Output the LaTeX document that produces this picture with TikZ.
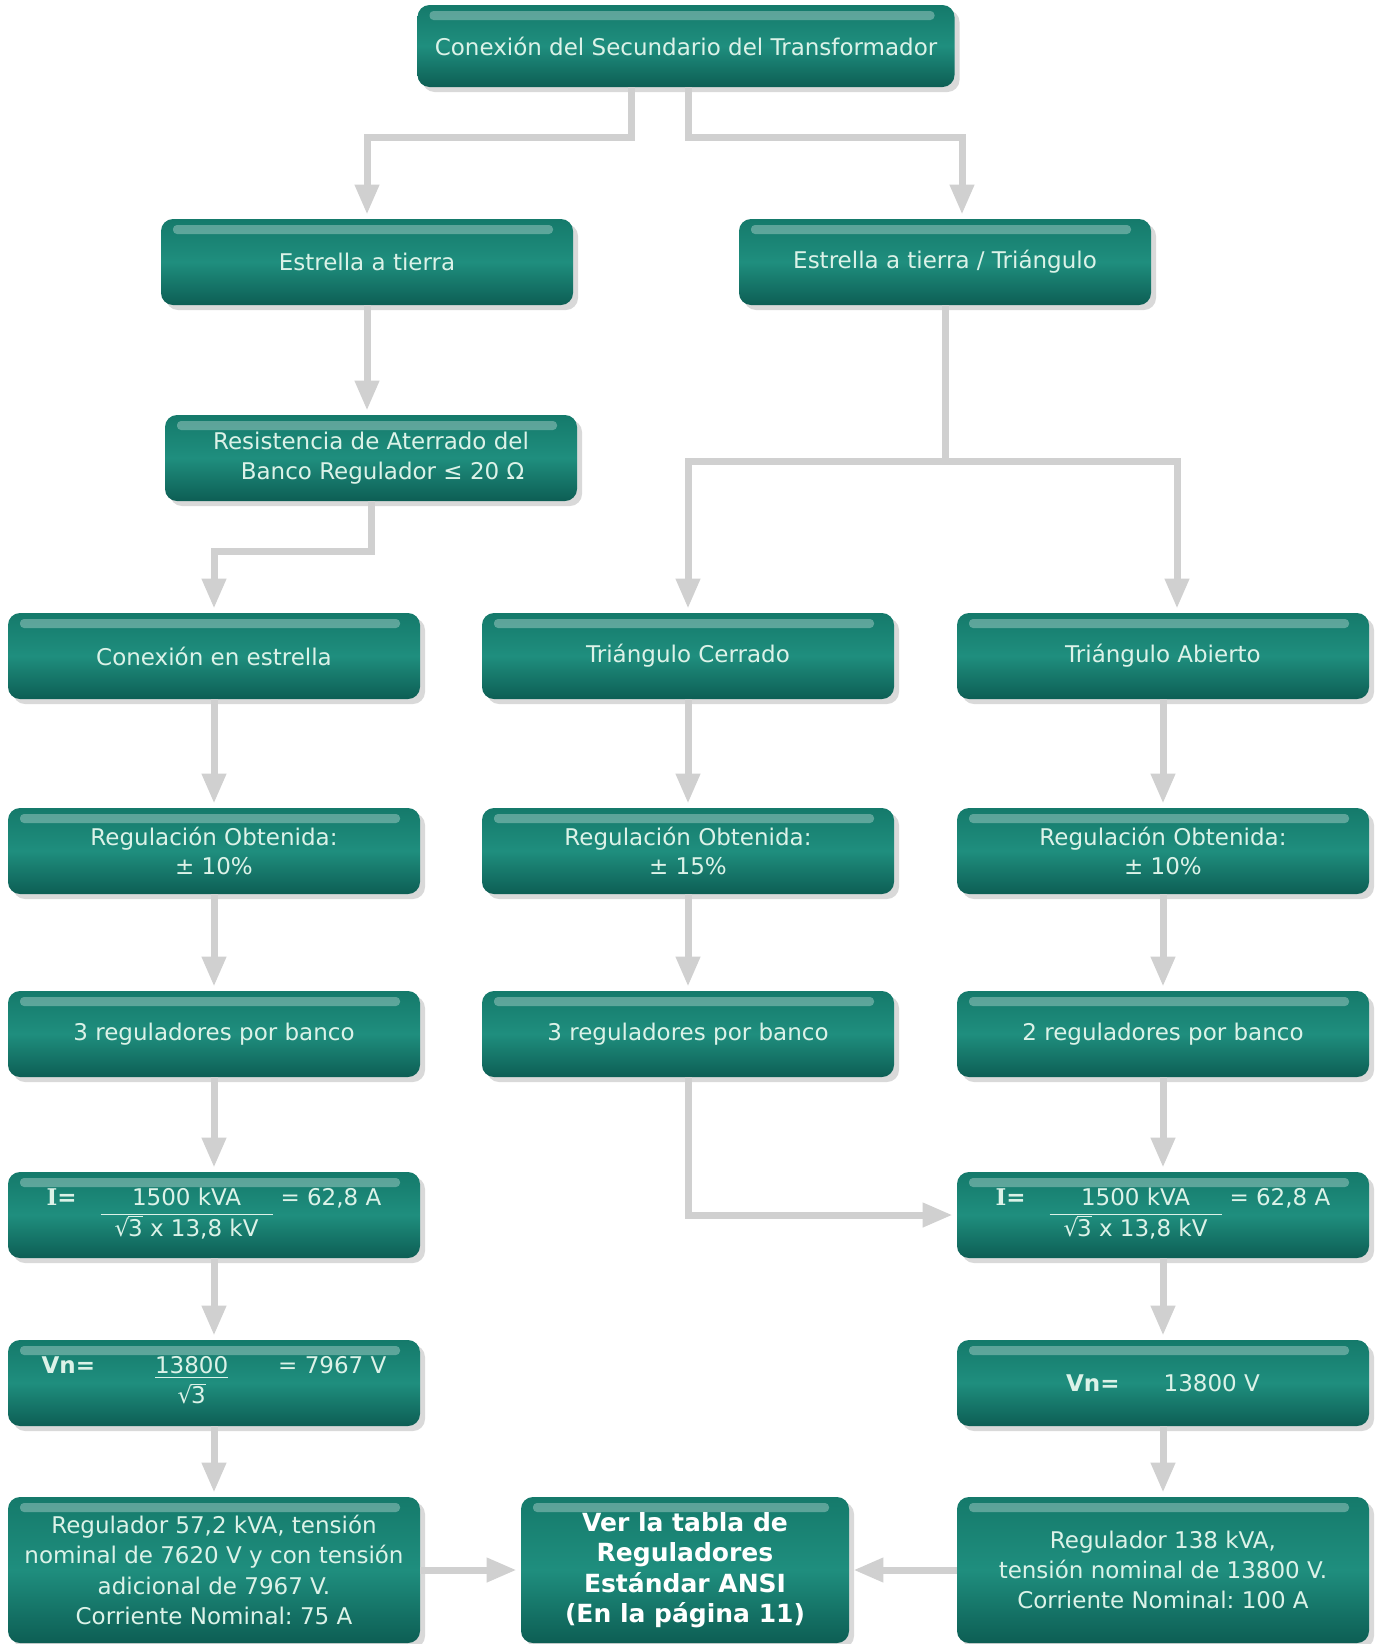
\documentclass[tikz,border=0pt]{standalone}
\usepackage{fontspec}
\setmainfont{DejaVu Sans}
\newfontfamily\serifbf{DejaVu Serif}
\usetikzlibrary{arrows.meta,shadows}
\frenchspacing

\definecolor{boxtop}{HTML}{157A6B}
\definecolor{boxmid}{HTML}{1F8E7E}
\definecolor{boxbot}{HTML}{0D5E54}
\definecolor{boxtext}{HTML}{DCF2E8}
\definecolor{flechagris}{HTML}{D0D0D0}

\newcommand\rtres{√\kern-0.6pt$\overline{\mbox{3}}$}
\newcommand\ibf{{\serifbf\bfseries I}\textbf{=}}

\tikzset{
  caja/.style={rounded corners=6pt, minimum width=206pt, minimum height=43pt,
    align=center, text=boxtext, font=\fontsize{11.5}{14.8}\selectfont,
    top color=boxtop, bottom color=boxbot, middle color=boxmid,
    drop shadow={opacity=0.3, shadow xshift=2.5pt, shadow yshift=-2.5pt},
    path picture={\fill[white, opacity=0.3, rounded corners=2pt]
      ([xshift=6pt,yshift=-3pt]path picture bounding box.north west) rectangle
      ([xshift=-10pt,yshift=-7.5pt]path picture bounding box.north east);}},
  cajabaja/.style={caja, minimum height=73pt, font=\fontsize{11.5}{15.2}\selectfont},
  flecha/.style={draw=flechagris, line width=3.5pt, -{Triangle[width=11.5pt,length=15pt]}, shorten >=2pt},
  linea/.style={draw=flechagris, line width=3.5pt},
}

\begin{document}
\begin{tikzpicture}[x=0.5pt,y=-0.5pt]
  \useasboundingbox (0,0) rectangle (1382,1644);

  \node[caja, minimum width=268.5pt, minimum height=41pt] (secund) at (686,46) {Conexión del Secundario del Transformador};
  \node[caja] (estrtierra) at (367,262) {Estrella a tierra};
  \node[caja] (estrtri) at (945,262) {Estrella a tierra / Triángulo};
  \node[caja] (resist) at (371,458) {Resistencia de Aterrado del\\ \quad Banco Regulador ≤ 20 Ω};

  \node[caja] (conest) at (214,656) {Conexión en estrella};
  \node[caja] (tricer) at (688,656) {Triángulo Cerrado};
  \node[caja] (triab) at (1163,656) {Triángulo Abierto};

  \node[caja] (regl) at (214,851) {Regulación Obtenida:\\ ± 10\%};
  \node[caja] (regm) at (688,851) {Regulación Obtenida:\\ ± 15\%};
  \node[caja] (regr) at (1163,851) {Regulación Obtenida:\\ ± 10\%};

  \node[caja] (nrl) at (214,1034) {3 reguladores por banco};
  \node[caja] (nrm) at (688,1034) {3 reguladores por banco};
  \node[caja] (nrr) at (1163,1034) {2 reguladores por banco};

  \node[caja] (il) at (214,1215) {\ibf\hspace{12pt}\begin{tabular}[t]{@{\hspace{7pt}}c@{\hspace{7pt}}}1500 kVA\\\hline \rtres{} x 13,8 kV\end{tabular}\hspace{4pt}= 62,8 A};
  \node[caja] (ir) at (1163,1215) {\ibf\hspace{12pt}\begin{tabular}[t]{@{\hspace{7pt}}c@{\hspace{7pt}}}1500 kVA\\\hline \rtres{} x 13,8 kV\end{tabular}\hspace{4pt}= 62,8 A};

  \node[caja] (vnl) at (214,1383) {\textbf{Vn=}\hspace{24pt}\begin{tabular}[t]{c}\underline{13800}\\\rtres\end{tabular}\hspace{19pt}= 7967 V};
  \node[caja] (vnr) at (1163,1383) {\textbf{Vn=}\hspace{22pt}13800 V};

  \node[cajabaja] (fl) at (214,1570) {Regulador 57,2 kVA, tensión\\ nominal de 7620 V y con tensión\\ adicional de 7967 V.\\ Corriente Nominal: 75 A};
  \node[cajabaja, minimum width=164pt, text=white, font=\bfseries\fontsize{12.5}{15.2}\selectfont] (ver) at (685,1570) {Ver la tabla de\\ Reguladores\\ Estándar ANSI\\ (En la página 11)};
  \node[cajabaja] (fr) at (1163,1570) {Regulador 138 kVA,\\ tensión nominal de 13800 V.\\ Corriente Nominal: 100 A};

  \draw[flecha] ([xshift=-27.5pt]secund.south) -- ++(0,50) -| (estrtierra);
  \draw[flecha] ([xshift=1pt]secund.south) -- ++(0,50) -| ([xshift=8.5pt]estrtri.north);
  \draw[flecha] (estrtierra) -- (estrtierra |- resist.north);
  \draw[flecha] (resist.south) -- ++(0,50) -| (conest);

  \coordinate (split) at (estrtri |- 0,461);
  \draw[linea] (estrtri.south) -- (split);
  \draw[flecha] (split) -| (tricer);
  \draw[flecha] (split) -| ([xshift=7pt]triab.north);

  \foreach \a/\b in {conest/regl, regl/nrl, nrl/il, il/vnl, vnl/fl,
                     tricer/regm, regm/nrm,
                     triab/regr, regr/nrr, nrr/ir, ir/vnr, vnr/fr}
    \draw[flecha] (\a) -- (\b);

  \draw[flecha] (nrm) |- (ir);
  \draw[flecha] (fl) -- (ver);
  \draw[flecha] (fr) -- (ver);
\end{tikzpicture}
\end{document}
